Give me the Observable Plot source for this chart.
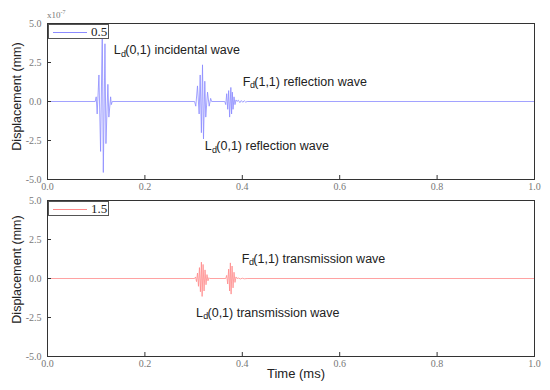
<!DOCTYPE html>
<html><head><meta charset="utf-8">
<script src="https://cdn.jsdelivr.net/npm/d3@7"></script>
<script src="https://cdn.jsdelivr.net/npm/@observablehq/plot@0.6"></script>
<style>
body{margin:0;background:#fff}
#wrap{position:relative;width:550px;height:390px;overflow:hidden}
#wrap svg{display:block}
.legend{position:absolute;left:48px;width:61px;height:15px;border:1px solid #555;background:#fff;box-sizing:border-box;font-family:"Liberation Serif",serif;font-size:13px;color:#222}
.legend .ln{position:absolute;left:4px;top:7px;width:34px;height:1px}
.legend .lt{position:absolute;left:42px;top:-1px}
.expo{position:absolute;left:47px;top:9px;font-family:"Liberation Serif",serif;font-size:9px;color:#777}
.expo sup{font-size:6px}
</style></head>
<body>
<div id="wrap"></div>
<script>
// ---- data ----
const xTicks = [0, 0.2, 0.4, 0.6, 0.8, 1.0];
const yTicks = [-5, -2.5, 0, 2.5, 5];
const seriesNames = ["0.5", "1.5"];
const seriesColors = ["#8a8aff", "#ff8a8a"];
const expoLabel = ["x10", "-7"];

// top panel (0.5): time (ms), displacement (x1e-7 mm)
const topTime = [0, 0.0980,0.1000,0.1020,0.1056,0.1090,0.1125,0.1146,0.1180,0.1200,0.1240,0.1260,0.1296,0.1310,0.1330,
  0.3020,0.3045,0.3080,0.3114,0.3135,0.3160,0.3183,0.3203,0.3230,0.3250,0.3286,0.3320,0.3350,0.3370,
  0.3640,0.3660,0.3680,0.3700,0.3720,0.3740,0.3765,0.3780,0.3795,0.3810,0.3830,0.3850,0.3870,0.3890,
  0.3920,0.3950,0.3980,0.4010,0.4040,0.4070,0.4100, 1.0];
const topDisp = [0, 0,0.3,-0.8,1.7,-3.2,4.8,-4.55,3.7,-2.7,1.1,-1.0,0.3,-0.2,0,
  0,-0.3,1.0,-0.8,1.7,-2.0,2.35,-2.4,1.3,-1.0,0.6,-0.3,0.2,0,
  0,-0.2,0.5,-0.5,0.7,-1.0,0.9,-0.8,0.6,-0.5,0.3,-0.2,0.1,0,
  0.08,-0.07,0.06,-0.05,0.05,-0.04,0, 0];

// bottom panel (1.5)
const botTime = [0, 0.3020,0.3040,0.3060,0.3080,0.3100,0.3120,0.3140,0.3160,0.3175,0.3195,0.3215,0.3235,0.3255,0.3275,0.3295,0.3315,0.3330,
  0.3660,0.3680,0.3700,0.3720,0.3740,0.3755,0.3770,0.3790,0.3810,0.3830,0.3850,0.3870,0.3890,
  0.3920,0.3960,0.4000,0.4040,0.4100, 1.0];
const botDisp = [0, 0,0.1,-0.2,0.35,-0.5,0.7,-0.85,1.05,-1.15,0.9,-0.8,0.55,-0.4,0.25,-0.15,0.05,0,
  0,0.2,-0.35,0.6,-0.8,1.0,-1.0,0.8,-0.6,0.4,-0.25,0.1,0,
  0.03,-0.03,0.02,-0.02,0, 0];

// annotations
const topAnnoX = [0.136, 0.401, 0.323];
const topAnnoY = [3.27, 1.28, -2.88];
const topAnnoMain = ["L", "F", "L"];
const topAnnoRest = ["(0,1) incidental wave", "(1,1) reflection wave", "(0,1) reflection wave"];
const botAnnoX = [0.399, 0.305];
const botAnnoY = [1.28, -2.18];
const botAnnoMain = ["F", "L"];
const botAnnoRest = ["(1,1) transmission wave", "(0,1) transmission wave"];
const subLabel = "d";
const yLabel = "Displacement (mm)";
const xLabel = "Time (ms)";

// ---- drawing ----
const fmt = d => d.toFixed(1);
const sans = "'Liberation Sans', Arial, sans-serif";

function annoMarks(xs, ys, mains, rests) {
  const data = xs.map((x, i) => ({x, y: ys[i], m: mains[i], r: rests[i]}));
  const common = {x: "x", y: "y", textAnchor: "start", lineAnchor: "middle", fontFamily: sans, fill: "#222"};
  return [
    Plot.text(data, {...common, text: "m", fontSize: 12.5}),
    Plot.text(data, {...common, text: () => subLabel, fontSize: 9, dx: 7.2, dy: 4}),
    Plot.text(data, {...common, text: "r", fontSize: 12.5, dx: 11.5})
  ];
}

function panel({height, marginTop, marginBottom, times, disp, color, annos, labelDy, extra}) {
  const idx = d3.range(times.length);
  return Plot.plot({
    width: 550, height, marginTop, marginBottom, marginLeft: 47, marginRight: 16,
    style: {fontFamily: "'Liberation Serif', serif", fontSize: "10px", background: "transparent"},
    x: {domain: [0, 1]},
    y: {domain: [-5, 5]},
    marks: [
      Plot.line(idx, {x: i => times[i], y: i => disp[i], stroke: color, strokeWidth: 0.8}),
      Plot.frame({stroke: "#333", strokeWidth: 1}),
      Plot.axisX({ticks: xTicks, tickFormat: fmt, tickSize: -4, tickPadding: 7, stroke: "#333", fill: "#777", label: null}),
      Plot.axisY({ticks: yTicks, tickFormat: fmt, tickSize: -4, tickPadding: 10, stroke: "#333", fill: "#777", label: null}),
      ...annos,
      Plot.text([yLabel], {frameAnchor: "left", textAnchor: "middle", lineAnchor: "middle", rotate: -90, dx: -31, dy: labelDy, fontFamily: sans, fontSize: 12.5, fill: "#222"}),
      ...(extra || [])
    ]
  });
}

const wrap = document.getElementById("wrap");
const topPanel = panel({height: 192, marginTop: 23, marginBottom: 13, times: topTime, disp: topDisp, color: seriesColors[0],
  annos: annoMarks(topAnnoX, topAnnoY, topAnnoMain, topAnnoRest), labelDy: -5});
const botPanel = panel({height: 198, marginTop: 8, marginBottom: 34, times: botTime, disp: botDisp, color: seriesColors[1],
  annos: annoMarks(botAnnoX, botAnnoY, botAnnoMain, botAnnoRest), labelDy: -9,
  extra: [Plot.text([xLabel], {frameAnchor: "bottom", dy: 21, dx: 5, fontFamily: sans, fontSize: 13, fill: "#222"})]});
wrap.appendChild(topPanel);
wrap.appendChild(botPanel);

// legends & exponent label
function legend(topPx, name, color) {
  const d = document.createElement("div");
  d.className = "legend";
  d.style.top = topPx + "px";
  d.innerHTML = `<div class="ln" style="background:${color}"></div><div class="lt">${name}</div>`;
  wrap.appendChild(d);
}
legend(24, seriesNames[0], seriesColors[0]);
legend(201, seriesNames[1], seriesColors[1]);
const e = document.createElement("div");
e.className = "expo";
e.innerHTML = `${expoLabel[0]}<sup>${expoLabel[1]}</sup>`;
wrap.appendChild(e);
</script>
</body></html>
